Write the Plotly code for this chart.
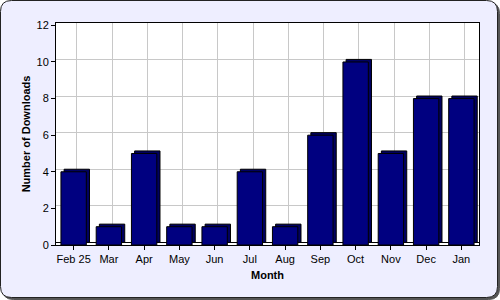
import plotly.graph_objects as go

months = ["Feb 25", "Mar", "Apr", "May", "Jun", "Jul", "Aug", "Sep", "Oct", "Nov", "Dec", "Jan"]
downloads = [4, 1, 5, 1, 1, 4, 1, 6, 10, 5, 8, 8]
y_ticks = [0, 2, 4, 6, 8, 10, 12]

W, H = 500, 300
L, R, T, B = 56, 21, 23, 55
pw, ph = W - L - R, H - T - B

def px(x):
    return (x - L) / pw

def py(y):
    return (H - B - y) / ph

def rounded(x0, y0, x1, y1, r):
    return (f"M {px(x0 + r)},{py(y0)} L {px(x1 - r)},{py(y0)} "
            f"Q {px(x1)},{py(y0)} {px(x1)},{py(y0 + r)} "
            f"L {px(x1)},{py(y1 - r)} Q {px(x1)},{py(y1)} {px(x1 - r)},{py(y1)} "
            f"L {px(x0 + r)},{py(y1)} Q {px(x0)},{py(y1)} {px(x0)},{py(y1 - r)} "
            f"L {px(x0)},{py(y0 + r)} Q {px(x0)},{py(y0)} {px(x0 + r)},{py(y0)} Z")

ymax = 12.13
dx = 0.09  # depth shift in categories
dy = 0.14  # depth shift in value units

fig = go.Figure()
# back (depth) faces on shifted back-wall axes
fig.add_trace(go.Bar(x=months, y=downloads, xaxis="x", yaxis="y", width=0.72,
                     marker=dict(color="#000060", line=dict(color="black", width=1)),
                     hoverinfo="skip", showlegend=False))
# front faces
fig.add_trace(go.Bar(x=months, y=downloads, xaxis="x2", yaxis="y2", width=0.72,
                     marker=dict(color="#000080", line=dict(color="black", width=1)),
                     showlegend=False))

font = dict(family="Liberation Sans, Arial, sans-serif", size=11, color="black")

fig.update_layout(
    width=W, height=H,
    margin=dict(l=L, r=R, t=T, b=B, pad=0),
    paper_bgcolor="white",
    plot_bgcolor="rgba(0,0,0,0)",
    font=font,
    showlegend=False,
    xaxis=dict(type="category", range=[-0.5 - dx, 11.5 - dx], showgrid=True,
               gridcolor="#C8C8C8", gridwidth=1, showticklabels=False, ticks="",
               showline=False, zeroline=False),
    yaxis=dict(range=[-dy, ymax - dy], tickvals=y_ticks, showgrid=True,
               gridcolor="#C8C8C8", gridwidth=1, showticklabels=False, ticks="",
               showline=False, zeroline=True, zerolinecolor="black", zerolinewidth=1),
    xaxis2=dict(type="category", overlaying="x", range=[-0.5, 11.5], side="bottom",
                showgrid=False, ticks="outside", ticklen=4, tickcolor="black",
                showline=True, linecolor="black", linewidth=1, mirror=True,
                tickfont=font,
                title=dict(text="<b>Month</b>", font=font, standoff=7)),
    yaxis2=dict(overlaying="y", range=[0, ymax], side="left", tickvals=y_ticks,
                showgrid=False, zeroline=False, ticks="outside", ticklen=4,
                tickcolor="black", showline=True, linecolor="black", linewidth=1,
                mirror=True, tickfont=font,
                title=dict(text="<b>Number of Downloads</b>", font=font, standoff=3)),
    shapes=[
        dict(type="path", xref="paper", yref="paper", layer="below",
             path=rounded(2.5, 2.5, 499.5, 299.5, 11),
             fillcolor="#555555", line=dict(color="#555555", width=1)),
        dict(type="path", xref="paper", yref="paper", layer="below",
             path=rounded(0.5, 0.5, 497.5, 297.5, 11),
             fillcolor="#EEEEFF", line=dict(color="#222222", width=1)),
        dict(type="rect", xref="paper", yref="paper", layer="below",
             x0=0, x1=1, y0=0, y1=1, fillcolor="white", line=dict(width=0)),
    ],
)

fig.write_html("out.html")
